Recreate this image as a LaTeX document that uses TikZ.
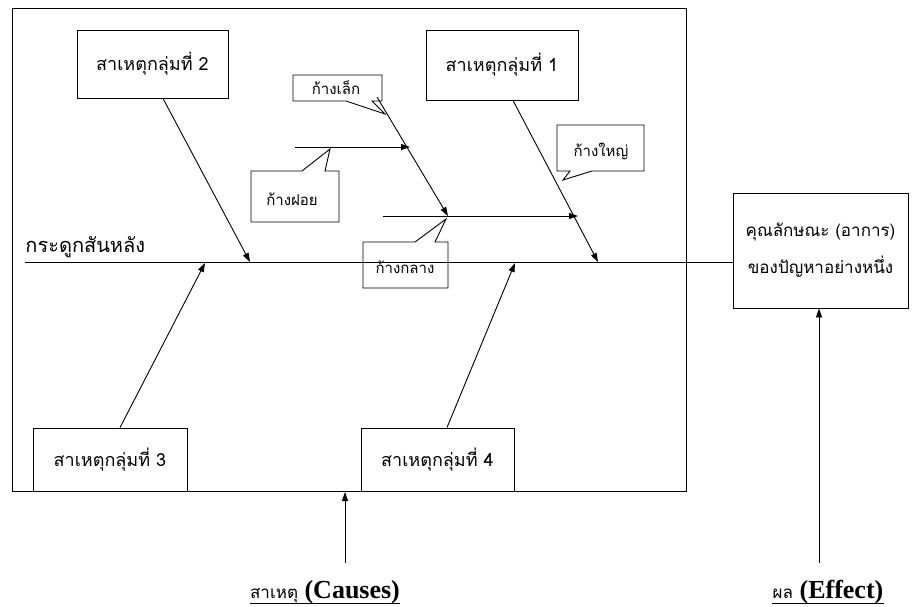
\documentclass[tikz,border=0pt]{standalone}
\usepackage{fontspec}
\setmainfont{Liberation Serif}
\newfontfamily\thaifont[Script=Thai]{Loma}
\newcommand\capthai{\thaifont\fontsize{17}{19}\selectfont\mdseries}
\usetikzlibrary{arrows.meta,calc}
\begin{document}
\begin{tikzpicture}[x=1pt,y=-1pt,line width=0.9pt,
  causebox/.style={draw,inner sep=0pt,font=\thaifont\fontsize{18}{20}\selectfont},
  effectbox/.style={draw,inner sep=0pt,align=center,font=\thaifont\fontsize{17}{37}\selectfont},
  tagtext/.style={inner sep=0pt,font=\thaifont\fontsize{15}{17}\selectfont},
  bone/.style={-{Triangle[length=9pt,width=6pt]}},
  caption/.style={inner sep=0pt,font=\fontsize{26}{28}\selectfont\bfseries}
]
\useasboundingbox (0,0) rectangle (917,606);

% frame around all causes
\draw (12,8) rectangle (686,491);

% cause groups
\node[causebox,minimum width=151pt,minimum height=68pt] (c2) at (152.5,64) {สาเหตุกลุ่มที่ 2};
\node[causebox,minimum width=152pt,minimum height=70pt] (c1) at (502,65) {สาเหตุกลุ่มที่ 1};
\node[causebox,minimum width=154pt,minimum height=63pt] (c3) at (110,459.5) {สาเหตุกลุ่มที่ 3};
\node[causebox,minimum width=153pt,minimum height=63pt] (c4) at (437.5,459.5) {สาเหตุกลุ่มที่ 4};

% effect
\node[effectbox,minimum width=175pt,minimum height=115pt] (eff) at (820.5,250.5)
  {คุณลักษณะ (อาการ)\\ของปัญหาอย่างหนึ่ง};

% spine
\coordinate (spL) at (25,262);
\node[inner sep=0pt,anchor=south west,font=\thaifont\fontsize{20}{22}\selectfont] (spinelbl) at (25,258) {กระดูกสันหลัง};
\draw (spL) -- (spL -| eff.west);

% main bones onto the spine
\coordinate (j2) at (250,262);
\coordinate (j1) at (598,262);
\coordinate (j3) at (205,263);
\coordinate (j4) at (515,263);
\draw[bone] ([xshift=10.5pt]c2.south) -- (j2);
\draw[bone] ([xshift=11pt]c1.south) -- (j1);
\draw[bone] ([xshift=10pt]c3.north) -- (j3);
\draw[bone] ([xshift=9.5pt]c4.north) -- (j4);

% smaller bones
\coordinate (sA) at (377,97);
\coordinate (mA) at (448,216);
\coordinate (mL) at (383,216);
\coordinate (mR) at (578,216);
\coordinate (fL) at (295,147);
\coordinate (fR) at (410,147);
\draw[bone] (sA) -- (mA);
\draw[bone] (mL) -- (mR);
\draw[bone] (fL) -- (fR);

% speech-bubble labels
\node[tagtext] (tSmall) at (336,88) {ก้างเล็ก};
\draw (293,75) -- (382,75) -- (382,101) -- (372,101) -- (385,114) -- (346,101) -- (293,101) -- cycle;

\node[tagtext] (tBig) at (601,151) {ก้างใหญ่};
\draw (557,125) -- (644,125) -- (644,171) -- (592,171) -- (563,180) -- (570,171) -- (557,171) -- cycle;

\node[tagtext] (tFine) at (292,199) {ก้างฝอย};
\draw (251,171) -- (302,171) -- (330,149) -- (325,171) -- (339,171) -- (339,222) -- (251,222) -- cycle;

\node[tagtext] (tMid) at (405,267) {ก้างกลาง};
\draw (363,242) -- (415,242) -- (446,219) -- (435,242) -- (448,242) -- (448,288) -- (363,288) -- cycle;

% captions below
\coordinate (cArrow) at (345,563);
\draw[bone] (cArrow) -- (345,492);
\node[caption,anchor=base] (capC) at (325,598) {{\capthai สาเหตุ} (Causes)};
\draw[line width=0.8pt] (capC.base west |- 0,603) -- (capC.base east |- 0,603);

\coordinate (eArrow) at (819,563);
\draw[bone] (eArrow) -- (eff.south -| eArrow);
\node[caption,anchor=base] (capE) at (828,598) {{\capthai ผล} (Effect)};
\draw[line width=0.8pt] (capE.base west |- 0,603) -- (capE.base east |- 0,603);
\end{tikzpicture}
\end{document}
